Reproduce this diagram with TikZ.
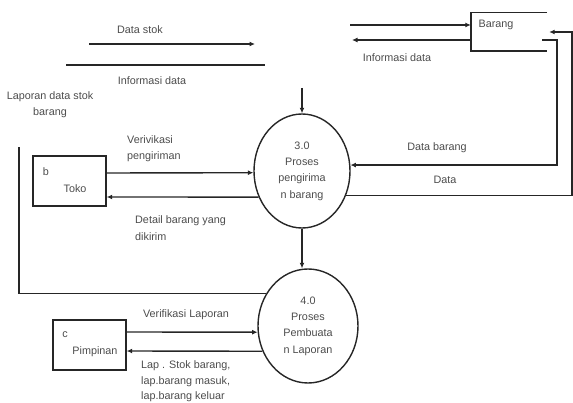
\documentclass[tikz,border=0pt]{standalone}
\usepackage{fontspec}
\setmainfont{Liberation Sans}
\usetikzlibrary{shapes.geometric,arrows.meta}

\begin{document}
\begin{tikzpicture}[x=1pt,y=-1pt,
  ink/.style={line width=1.4pt, draw=black!85},
  flow/.style={ink, -{Latex[length=5.5pt,width=5pt]}},
  txt/.style={font=\fontsize{10.8}{16.4}\selectfont, text=black!70, inner sep=0pt},
  proc/.style={ellipse, ink, txt, minimum width=96pt, minimum height=114pt, align=center},
  ent/.style={rectangle, ink, inner sep=0pt, minimum width=73pt, minimum height=50pt}
]
\useasboundingbox (0,0) rectangle (573,403);

% external entities
\node[ent] (toko) at (69.5,181) {};
\node[txt] (tokoid) at (46,172) {b};
\node[txt] (tokoname) at (75,189) {Toko};
\node[ent] (pimpinan) at (89.5,345) {};
\node[txt] (pimid) at (65,335) {c};
\node[txt] (pimname) at (95,352) {Pimpinan};

% data store (open on the right)
\node[inner sep=0pt, minimum width=76pt, minimum height=38pt] (barang) at (509,32) {};
\draw[ink] (barang.north east) -- (barang.north west) -- (barang.south west) -- (barang.south east);
\node[txt] (barangname) at (496,25) {Barang};

% processes
\node[proc] (p3) at (302,171) {3.0\\Proses\\pengirima\\n barang};
\node[proc, minimum width=100pt] (p4) at (308,326) {4.0\\Proses\\Pembuata\\n Laporan};

% flows at the top left
\coordinate (dsA) at (89,44);
\coordinate (dsB) at (255,44);
\draw[flow] (dsA) -- (dsB);
\node[txt] (lblDataStok) at (140,30) {Data stok};
\coordinate (idA) at (66,65);
\coordinate (idB) at (265,65);
\draw[ink] (idA) -- (idB);
\node[txt] (lblInfo1) at (152,81) {Informasi data};
\node[txt, align=center] (lblLapStok) at (50,105) {Laporan data stok\\barang};

% input into process 3.0 from above
\coordinate (p3in) at (302,88);
\draw[flow] (p3in) -- (p3.north);

% flows at the data store
\coordinate (bIn) at (350,25);
\draw[flow] (bIn) -- ([yshift=7pt]barang.west);
\coordinate (bOut) at (352,40);
\draw[flow] ([yshift=-8pt]barang.west) -- (bOut);
\node[txt] (lblInfo2) at (397,58) {Informasi data};

\coordinate (dbTurn) at (557,40);
\draw[flow] ([shift={(-5pt,-8pt)}]barang.east) -- (dbTurn) |- (p3.7);
\node[txt] (lblDataBarang) at (437,148) {Data barang};
\coordinate (dTurn) at (572,32);
\draw[flow] (p3.331) -| (dTurn) -- ([xshift=2pt]barang.east);
\node[txt] (lblData) at (445,180) {Data};

% Toko <-> process 3.0
\draw[flow] ([yshift=8pt]toko.east) -- (p3.182);
\node[txt, align=left, anchor=west] (lblVer) at (127,149) {Verivikasi\\pengiriman};
\draw[flow] (p3.211) -- ([yshift=-16pt]toko.east);
\node[txt, align=left, anchor=west] (lblDetail) at (135,228) {Detail barang yang\\dikirim};

% process 3.0 -> process 4.0
\draw[flow] (p3.south) -- (p3.south |- p4.north);

% report loop on the left
\coordinate (loopEnd) at (19,147);
\draw[ink] (p4.142) -| (loopEnd);

% Pimpinan <-> process 4.0
\draw[flow] ([yshift=13pt]pimpinan.east) -- (p4.187);
\node[txt] (lblVerLap) at (186,315) {Verifikasi Laporan};
\draw[flow] (p4.209) -- ([yshift=-6pt]pimpinan.east);
\node[txt, align=left, anchor=west, font=\fontsize{10.8}{15.6}\selectfont] (lblLap) at (141,381.5) {Lap . Stok barang,\\lap.barang masuk,\\lap.barang keluar};
\end{tikzpicture}
\end{document}
